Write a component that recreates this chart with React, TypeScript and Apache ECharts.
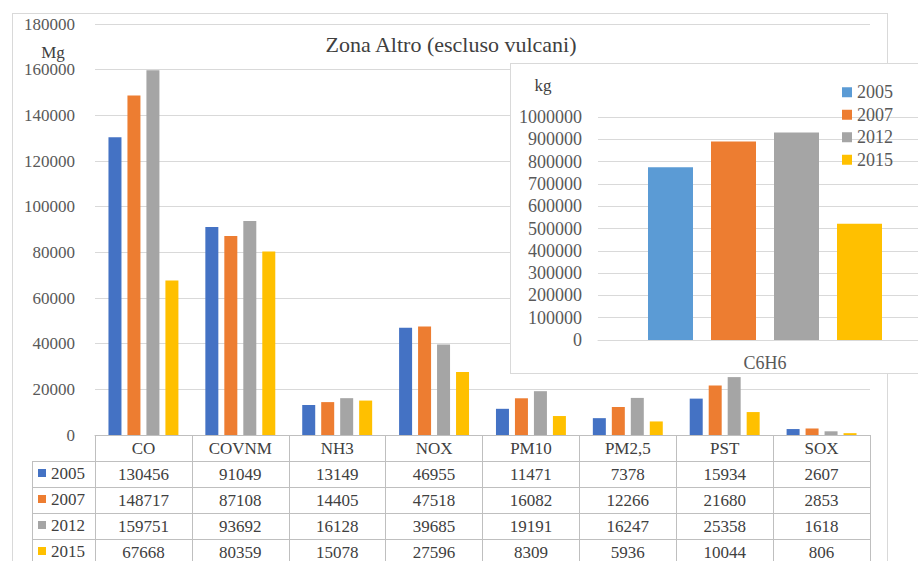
import React, { useEffect, useRef } from "react";
import * as echarts from "echarts";

const categories = ["CO", "COVNM", "NH3", "NOX", "PM10", "PM2,5", "PST", "SOX"];
const years = ["2005", "2007", "2012", "2015"];
const values2005 = [130456, 91049, 13149, 46955, 11471, 7378, 15934, 2607];
const values2007 = [148717, 87108, 14405, 47518, 16082, 12266, 21680, 2853];
const values2012 = [159751, 93692, 16128, 39685, 19191, 16247, 25358, 1618];
const values2015 = [67668, 80359, 15078, 27596, 8309, 5936, 10044, 806];
const mainMax = 180000;
const mainStep = 20000;

const insetCategories = ["C6H6"];
const c6h6Values = [775000, 890000, 931000, 521000];
const insetMax = 1000000;
const insetStep = 100000;

const mainColors = ["#4472C4", "#ED7D31", "#A5A5A5", "#FFC000"];
const insetColors = ["#5B9BD5", "#ED7D31", "#A5A5A5", "#FFC000"];

const SERIF = "Liberation Serif";
const SERIF_FONT = "'Liberation Serif', serif";
const W = 918;
const H = 561;
const GRID_LEFT = 95;
const GRID_TOP = 24;
const GRID_W = 775;
const GRID_H = 411;
const ROW_H = 26;
const LABEL_COL_LEFT = 32;
const TABLE_LINE = "#bfbfbf";
const TABLE_TEXT = "#404040";
const AXIS_TEXT = "#595959";

export default function App() {
  const mainRef = useRef<HTMLDivElement>(null);
  const insetRef = useRef<HTMLDivElement>(null);

  useEffect(() => {
    if (!mainRef.current || !insetRef.current) return;
    const main = echarts.init(mainRef.current, undefined, { renderer: "svg" });
    const inset = echarts.init(insetRef.current, undefined, { renderer: "svg" });

    const rows = [values2005, values2007, values2012, values2015];
    const axisBase = (data: string[], offset: number) => ({
      type: "category",
      data,
      gridIndex: 0,
      position: "bottom",
      offset,
      boundaryGap: true,
      axisLine: { show: true, lineStyle: { color: TABLE_LINE, width: 1 } },
      axisTick: { show: true, inside: false, length: ROW_H, interval: 0, lineStyle: { color: TABLE_LINE, width: 1 } },
      axisLabel: {
        interval: 0,
        margin: 5,
        fontFamily: SERIF,
        fontSize: 17,
        lineHeight: 17,
        color: TABLE_TEXT,
      },
      splitLine: { show: false },
    });
    const xAxes = [
      axisBase(categories, 0),
      ...rows.map((r, i) => axisBase(r.map(String), ROW_H * (i + 1))),
    ];

    const bottomY = GRID_TOP + GRID_H;
    const graphics: any[] = [
      {
        type: "text",
        x: 451,
        y: 44,
        style: {
          text: "Zona Altro (escluso vulcani)",
          font: `22px ${SERIF_FONT}`,
          fill: TABLE_TEXT,
          textAlign: "center",
          textVerticalAlign: "middle",
        },
      },
      {
        type: "text",
        x: 53,
        y: 52,
        style: {
          text: "Mg",
          font: `17px ${SERIF_FONT}`,
          fill: TABLE_TEXT,
          textAlign: "center",
          textVerticalAlign: "middle",
        },
      },
      {
        type: "line",
        shape: { x1: LABEL_COL_LEFT + 0.5, y1: bottomY + ROW_H, x2: LABEL_COL_LEFT + 0.5, y2: H + 10 },
        style: { stroke: TABLE_LINE, lineWidth: 1 },
      },
      ...rows.map((_, i) => ({
        type: "line",
        shape: {
          x1: LABEL_COL_LEFT,
          y1: bottomY + ROW_H * (i + 1) + 0.5,
          x2: GRID_LEFT,
          y2: bottomY + ROW_H * (i + 1) + 0.5,
        },
        style: { stroke: TABLE_LINE, lineWidth: 1 },
      })),
    ];

    main.setOption({
      animation: false,
      backgroundColor: "transparent",
      textStyle: { fontFamily: SERIF },
      grid: { left: GRID_LEFT, top: GRID_TOP, width: GRID_W, height: GRID_H, containLabel: false },
      xAxis: xAxes,
      yAxis: {
        type: "value",
        min: 0,
        max: mainMax,
        interval: mainStep,
        axisLine: { show: false },
        axisTick: { show: false },
        axisLabel: {
          margin: 20,
          fontFamily: SERIF,
          fontSize: 17,
          color: AXIS_TEXT,
          formatter: (v: number) => String(v),
        },
        splitLine: { lineStyle: { color: "#d9d9d9", width: 1 } },
      },
      legend: {
        orient: "vertical",
        left: 38,
        top: bottomY + ROW_H + 2,
        padding: 0,
        itemGap: ROW_H - 20,
        itemWidth: 8,
        itemHeight: 8,
        icon: "rect",
        selectedMode: false,
        data: years,
        textStyle: { fontFamily: SERIF, fontSize: 17, lineHeight: 20, color: TABLE_TEXT },
      },
      series: years.map((y, i) => ({
        type: "bar",
        name: y,
        data: rows[i],
        xAxisIndex: 0,
        barWidth: 13,
        barGap: "46%",
        itemStyle: { color: mainColors[i] },
      })),
      graphic: graphics,
    });

    inset.setOption({
      animation: false,
      backgroundColor: "#ffffff",
      textStyle: { fontFamily: SERIF },
      grid: { left: 88, top: 54, width: 334, height: 223, containLabel: false },
      xAxis: {
        type: "category",
        data: insetCategories,
        axisLine: { show: true, lineStyle: { color: "#d9d9d9" } },
        axisTick: { show: false },
        axisLabel: { margin: 14, fontFamily: SERIF, fontSize: 18, color: AXIS_TEXT },
      },
      yAxis: {
        type: "value",
        min: 0,
        max: insetMax,
        interval: insetStep,
        axisLine: { show: false },
        axisTick: { show: false },
        axisLabel: {
          margin: 16,
          fontFamily: SERIF,
          fontSize: 18,
          color: AXIS_TEXT,
          formatter: (v: number) => String(v),
        },
        splitLine: { lineStyle: { color: "#d9d9d9", width: 1 } },
      },
      legend: {
        orient: "vertical",
        left: 332,
        top: 20,
        padding: 0,
        itemGap: 4,
        itemWidth: 10,
        itemHeight: 10,
        icon: "rect",
        selectedMode: false,
        data: years,
        textStyle: { fontFamily: SERIF, fontSize: 18, lineHeight: 18.5, color: AXIS_TEXT },
      },
      series: years.map((y, i) => ({
        type: "bar",
        name: y,
        data: [c6h6Values[i]],
        barWidth: 45,
        barGap: "40%",
        itemStyle: { color: insetColors[i] },
      })),
      graphic: [
        {
          type: "text",
          x: 33,
          y: 22,
          style: {
            text: "kg",
            font: `17px ${SERIF_FONT}`,
            fill: TABLE_TEXT,
            textAlign: "center",
            textVerticalAlign: "middle",
          },
        },
      ],
    });

    return () => {
      main.dispose();
      inset.dispose();
    };
  }, []);

  return (
    <div
      style={{
        position: "fixed",
        left: 0,
        top: 0,
        width: W,
        height: H,
        overflow: "hidden",
        background: "#ffffff",
      }}
    >
      <div
        style={{
          position: "absolute",
          left: 12,
          top: 13,
          width: 876,
          height: 620,
          border: "1px solid #d9d9d9",
          boxSizing: "border-box",
        }}
      />
      <div ref={mainRef} style={{ position: "absolute", left: 0, top: 0, width: W, height: H }} />
      <div
        style={{
          position: "absolute",
          left: 510,
          top: 63,
          width: 440,
          height: 311,
          border: "1px solid #d9d9d9",
          boxSizing: "border-box",
          background: "#ffffff",
          overflow: "hidden",
        }}
      >
        <div ref={insetRef} style={{ position: "absolute", left: -1, top: -1, width: 430, height: 311 }} />
      </div>
    </div>
  );
}
